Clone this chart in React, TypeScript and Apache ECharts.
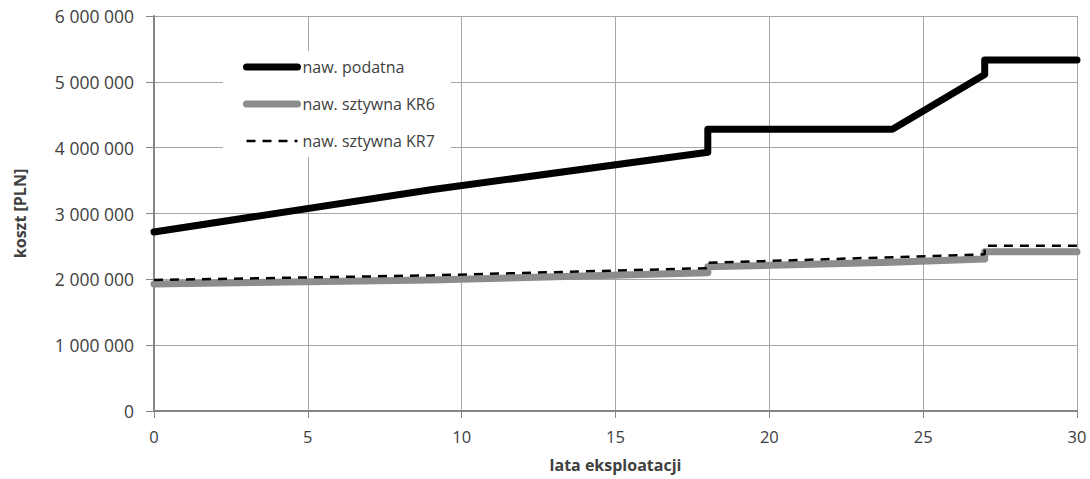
import React, { useEffect, useRef } from "react";
import * as echarts from "echarts";

const podatnaYears = [0, 9, 18, 18, 24, 27, 27, 30];
const podatnaCost = [2720000, 3360000, 3930000, 4280000, 4280000, 5110000, 5330000, 5330000];

const kr6Years = [0, 9, 18, 18, 24, 27, 27, 30];
const kr6Cost = [1930000, 1990000, 2100000, 2190000, 2260000, 2310000, 2420000, 2420000];

const kr7Years = [0, 9, 18, 18, 27, 27, 30];
const kr7Cost = [1990000, 2060000, 2170000, 2250000, 2380000, 2510000, 2510000];

const seriesNames = ["naw. podatna", "naw. sztywna KR6", "naw. sztywna KR7"];

const pairs = (xs: number[], ys: number[]) => xs.map((x, i) => [x, ys[i]]);

const FONT = '"Open Sans", "Noto Sans", sans-serif';
const TXT = "#404040";
const HIDDEN = { color: "rgba(0,0,0,0)", borderColor: "rgba(0,0,0,0)", borderWidth: 0 };

export default function App() {
  const ref = useRef<HTMLDivElement>(null);
  useEffect(() => {
    if (!ref.current) return;
    const chart = echarts.init(ref.current, null, { renderer: "svg" });
    chart.setOption({
      animation: false,
      backgroundColor: "#ffffff",
      grid: { left: 154, right: 13, top: 16, bottom: 68, containLabel: false },
      legend: {
        orient: "vertical",
        left: 223,
        top: 51,
        padding: [8, 16, 8, 20],
        backgroundColor: "#ffffff",
        itemWidth: 51,
        itemHeight: 12,
        itemGap: 21,
        itemTextGap: 5,
        textStyle: { fontFamily: FONT, fontSize: 16, color: TXT },
        data: [
          { name: seriesNames[0], itemStyle: HIDDEN, lineStyle: { width: 7, color: "#000000", cap: "round" } },
          { name: seriesNames[1], itemStyle: HIDDEN, lineStyle: { width: 7, color: "#8c8c8c", cap: "round" } },
          { name: seriesNames[2], itemStyle: HIDDEN, lineStyle: { width: 2.5, color: "#000000", type: [9, 7] } },
        ],
      },
      xAxis: {
        type: "value",
        min: 0,
        max: 30,
        interval: 5,
        name: "lata eksploatacji",
        nameLocation: "middle",
        nameGap: 46,
        nameTextStyle: { fontFamily: FONT, fontSize: 16, fontWeight: "bold", color: TXT },
        axisLine: { lineStyle: { color: "#868686", width: 2 } },
        axisTick: { show: true, length: 7, lineStyle: { color: "#868686" } },
        axisLabel: { fontFamily: FONT, fontSize: 16.5, color: TXT, margin: 17 },
        splitLine: { show: true, lineStyle: { color: "#a6a6a6", width: 1 } },
      },
      yAxis: {
        type: "value",
        min: 0,
        max: 6000000,
        interval: 1000000,
        name: "koszt [PLN]",
        nameLocation: "middle",
        nameGap: 126,
        nameTextStyle: { fontFamily: FONT, fontSize: 16, fontWeight: "bold", color: TXT },
        axisLine: { show: true, lineStyle: { color: "#868686", width: 2 } },
        axisTick: { show: true, length: 8, lineStyle: { color: "#868686" } },
        axisLabel: {
          fontFamily: FONT,
          fontSize: 17.5,
          color: TXT,
          margin: 20,
          formatter: (v: number) => String(Math.round(v)).replace(/\B(?=(\d{3})+(?!\d))/g, " "),
        },
        splitLine: { show: true, lineStyle: { color: "#a6a6a6", width: 1 } },
      },
      series: [
        {
          name: seriesNames[0],
          type: "line",
          data: pairs(podatnaYears, podatnaCost),
          symbol: "none",
          lineStyle: { color: "#000000", width: 7, cap: "round", join: "round" },
          itemStyle: { color: "#000000" },
          z: 3,
        },
        {
          name: seriesNames[1],
          type: "line",
          data: pairs(kr6Years, kr6Cost),
          symbol: "none",
          lineStyle: { color: "#8c8c8c", width: 7, cap: "round", join: "round" },
          itemStyle: { color: "#8c8c8c" },
          z: 2,
        },
        {
          name: seriesNames[2],
          type: "line",
          data: pairs(kr7Years, kr7Cost),
          symbol: "none",
          lineStyle: { color: "#000000", width: 2.5, type: [9, 7] },
          itemStyle: { color: "#000000" },
          z: 4,
        },
      ],
    });
    return () => chart.dispose();
  }, []);
  return <div ref={ref} style={{ width: 1090, height: 479, position: "absolute", left: 0, top: 0 }} />;
}
